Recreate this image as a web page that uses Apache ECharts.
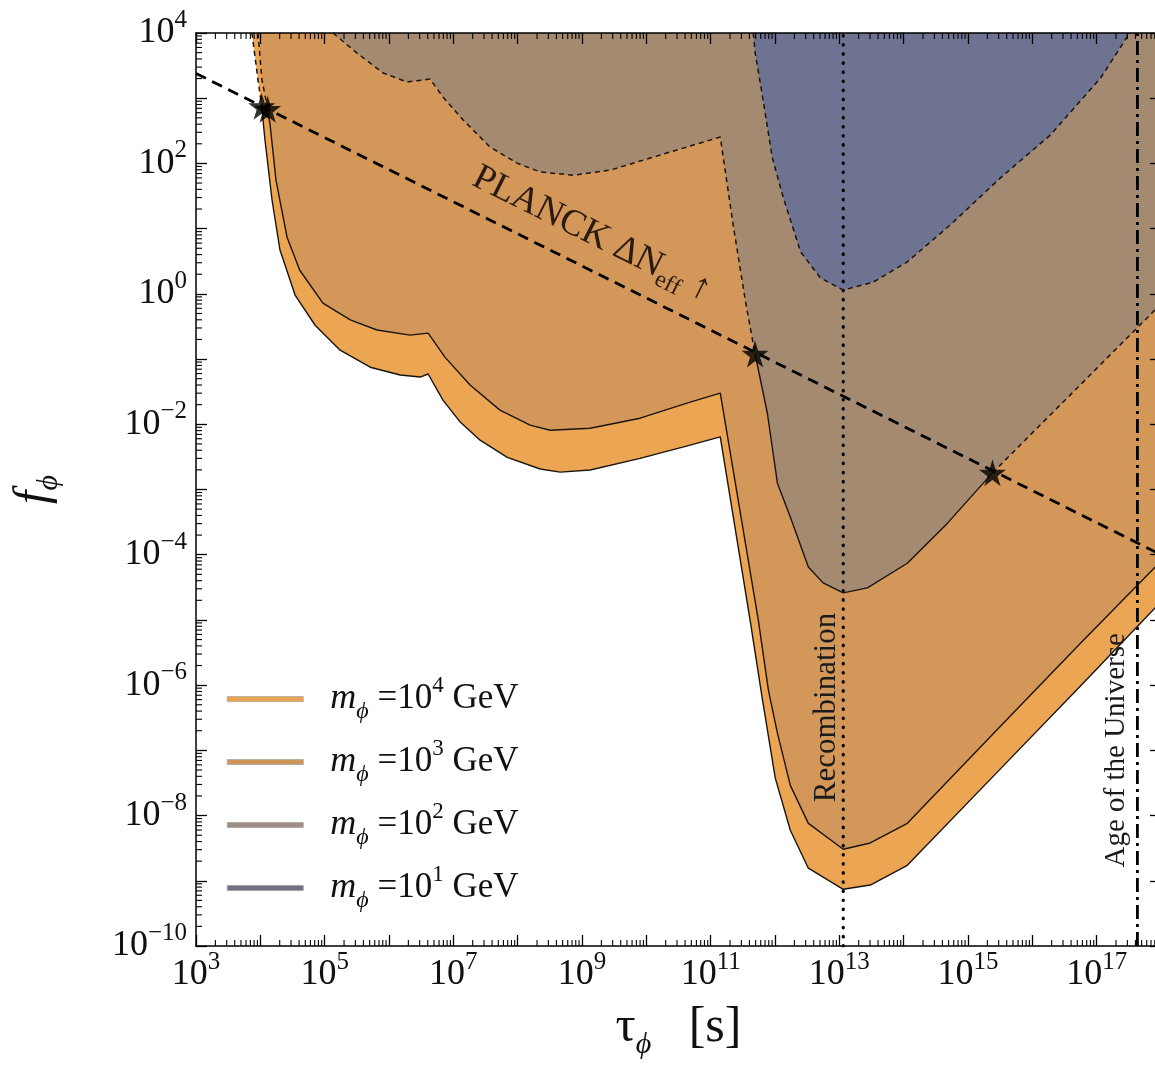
<!DOCTYPE html>
<html>
<head>
<meta charset="utf-8">
<script src="https://cdn.jsdelivr.net/npm/echarts@6.0.0/dist/echarts.min.js"></script>
<style>
html,body{margin:0;padding:0;background:#ffffff;}
#chart{width:1155px;height:1074px;}
</style>
</head>
<body>
<div id="chart"></div>
<script>
// ---------------- data ----------------
const xTickExponents = [3, 5, 7, 9, 11, 13, 15, 17];
const yTickExponents = [4, 2, 0, -2, -4, -6, -8, -10];
const massExponents = ['4', '3', '2', '1'];

// boundary of excluded region, m = 10^4 GeV
const tau4 = [7.4e3, 9.2e3, 1.05e4, 1.18e4, 1.52e4, 2.02e4, 3.47e4, 7.1e4, 1.74e5, 5.1e5, 1.49e6, 3.05e6, 4.06e6, 6.9e6, 1.28e7, 2.6e7, 6.9e7, 2.24e8, 4.6e8, 1.34e9, 8.0e9, 4.8e10, 1.41e11, 4.1e11, 6.4e11, 1.01e12, 1.73e12, 3.3e12, 1.15e13, 3.03e13, 1.14e14, 3.19e15, 5.6e16, 1e18];
const f4   = [1e4, 1.9e3, 7.5e2, 229, 27.5, 4.7, 0.96, 0.33, 0.137, 0.075, 0.057, 0.053, 0.059, 0.0235, 0.0108, 5.7e-3, 3.1e-3, 2.06e-3, 1.85e-3, 1.99e-3, 3.0e-3, 4.8e-3, 6.4e-3, 9.9e-6, 5.9e-7, 3.75e-8, 5.97e-9, 1.56e-9, 7.4e-10, 8.6e-10, 1.73e-9, 5.2e-8, 9.7e-7, 1.9e-5];

// m = 10^3 GeV
const tau3 = [9.2e3, 1.06e4, 1.3e4, 1.42e4, 1.75e4, 2.6e4, 4.1e4, 9.4e4, 2.5e5, 6.5e5, 2.13e6, 4.06e6, 7.4e6, 1.82e7, 5.3e7, 1.56e8, 3.2e8, 1.34e9, 8.0e9, 4.8e10, 1.41e11, 5.5e11, 7.9e11, 1.09e12, 1.73e12, 3.3e12, 1.15e13, 3.03e13, 1.14e14, 3.19e15, 5.6e16, 1e18];
const f3   = [1e4, 1.9e3, 6.8e2, 388, 55.6, 7.4, 2.3, 0.72, 0.40, 0.279, 0.233, 0.25, 0.107, 0.040, 0.0165, 9.7e-3, 8.1e-3, 8.7e-3, 0.0124, 0.0219, 0.030, 9.9e-6, 8.4e-7, 1.84e-7, 2.9e-8, 7.6e-9, 3.05e-9, 3.8e-9, 7.6e-9, 2.35e-7, 4.4e-6, 8.0e-5];

// m = 10^2 GeV
const tau2 = [1.35e5, 3.2e5, 8.1e5, 1.91e6, 4.35e6, 6.9e6, 1.42e7, 3.7e7, 9.8e7, 2.24e8, 7.3e8, 2.75e9, 1.28e10, 4.8e10, 1.41e11, 2.24e11, 3.45e11, 4.9e11, 7.6e11, 1.09e12, 1.73e12, 3.3e12, 5.6e12, 1.15e13, 2.73e13, 1.14e14, 4.8e14, 2.4e15, 1e18];
const f2   = [1e4, 4.9e3, 2.44e3, 1.77e3, 1.97e3, 1.04e3, 464, 179, 101, 74, 66, 79, 125, 185, 254, 11.3, 0.80, 0.12, 0.0149, 1.25e-3, 3.8e-4, 6.5e-5, 3.7e-5, 2.6e-5, 3.1e-5, 7.4e-5, 3.05e-4, 1.8e-3, 0.70];

// m = 10^1 GeV
const tau1 = [4.6e11, 4.9e11, 6.6e11, 9.1e11, 1.35e12, 2.5e12, 5.1e12, 1.15e13, 3.4e13, 1.14e14, 5.3e14, 3.19e15, 1.91e16, 1.15e17, 3.1e17, 3.4e17];
const f1   = [1e4, 5.1e3, 875, 121, 29.5, 4.4, 1.75, 1.14, 1.52, 3.1, 11.4, 60, 273, 2.04e3, 9.3e3, 1e4];

// PLANCK Delta N_eff line and its crossing stars
const planckTau = [1e3, 1e18];
const planckF   = [2.4e3, 1.0e-4];
const starTau = [1.05e4, 1.3e4, 4.9e11, 2.4e15];
const starF   = [7.5e2, 6.8e2, 0.12, 1.8e-3];

// reference epochs
const recombinationTau = 1.15e13;
const ageUniverseTau = 4.3e17;

// ---------------- styling / helpers ----------------
const FONT = 'Liberation Serif';
const fillColors = ['#EBA553', '#D3975A', '#A58A72', '#6D7391'];
const legendColors = ['#E9A453', '#CF9659', '#9D8D82', '#6E7084'];
const X_MIN = 3, X_MAX = 18, Y_MIN = -10, Y_MAX = 4;
const L = Math.log10;
const toLog = (t, f) => t.map((v, i) => [L(v), L(f[i])]);

const pl = toLog(planckTau, planckF);
function planckLog(lx) {
  return pl[0][1] + (lx - pl[0][0]) * (pl[1][1] - pl[0][1]) / (pl[1][0] - pl[0][0]);
}
function sideOf(p) {
  const d = p[1] - planckLog(p[0]);
  if (Math.abs(d) < 0.05) return 0;
  return d > 0 ? 1 : -1;
}
function splitSegments(pts) {
  const segs = [];
  let cur = [pts[0]];
  let side = sideOf(pts[0]) || null;
  for (let i = 1; i < pts.length; i++) {
    const p = pts[i];
    const s = sideOf(p);
    cur.push(p);
    if (s === 0) {
      segs.push({ above: side > 0, pts: cur });
      cur = [p];
      side = null;
    } else if (side === null) {
      side = s;
    }
  }
  if (cur.length > 1) segs.push({ above: side > 0, pts: cur });
  return segs;
}

const boundaries = [toLog(tau4, f4), toLog(tau3, f3), toLog(tau2, f2), toLog(tau1, f1)];

const series = [];
// filled exclusion regions (area above each boundary)
boundaries.forEach((pts, i) => {
  series.push({
    name: 'm' + massExponents[i],
    type: 'line',
    data: pts,
    showSymbol: false,
    symbol: 'none',
    silent: true,
    z: 1 + i * 0.01,
    color: legendColors[i],
    lineStyle: { width: 0 },
    areaStyle: { origin: 'end', color: fillColors[i], opacity: 1 }
  });
});

// reference vertical lines
series.push({
  type: 'line', silent: true, showSymbol: false, symbol: 'none', z: 3,
  data: [[L(recombinationTau), Y_MIN], [L(recombinationTau), Y_MAX]],
  lineStyle: { color: '#000', width: 3.2, type: [0.5, 8.6], cap: 'round' }
});
series.push({
  type: 'line', silent: true, showSymbol: false, symbol: 'none', z: 3,
  data: [[L(ageUniverseTau), Y_MIN], [L(ageUniverseTau), Y_MAX]],
  lineStyle: { color: '#000', width: 2.8, type: [14, 5, 3, 5] }
});

// boundary lines: dashed above the PLANCK line, solid below
boundaries.forEach((pts) => {
  splitSegments(pts).forEach((seg) => {
    series.push({
      type: 'line', silent: true, showSymbol: false, symbol: 'none', z: 4,
      data: seg.pts,
      lineStyle: seg.above
        ? { color: '#1a1410', width: 1.5, type: [5, 4], join: 'round' }
        : { color: '#1a1410', width: 1.4, type: 'solid', join: 'round' }
    });
  });
});

// PLANCK line
series.push({
  type: 'line', silent: true, showSymbol: false, symbol: 'none', z: 5,
  data: pl,
  lineStyle: { color: '#000', width: 2.8, type: [11, 7] }
});

// stars
series.push({
  type: 'scatter', silent: true, z: 6,
  data: toLog(starTau, starF),
  symbol: 'path://M50,0 L61,35 L98,35 L68,57 L79,91 L50,70 L21,91 L32,57 L2,35 L39,35 Z',
  symbolSize: 27,
  itemStyle: { color: '#000' }
});

// minor (log) ticks
const xMinor = [], yMinor = [];
for (let e = X_MIN; e < X_MAX; e++) for (let k = 2; k <= 9; k++) xMinor.push(e + L(k));
for (let e = Y_MIN; e < Y_MAX; e++) for (let k = 2; k <= 9; k++) yMinor.push(e + L(k));
const TICK_MINOR = 6;
series.push({
  type: 'custom', silent: true, z: 20, clip: false,
  data: xMinor.map(v => [v, Y_MIN]),
  renderItem: function (params, api) {
    const v = api.value(0);
    const b = api.coord([v, Y_MIN]);
    const t = api.coord([v, Y_MAX]);
    return { type: 'group', children: [
      { type: 'line', shape: { x1: b[0], y1: b[1], x2: b[0], y2: b[1] - TICK_MINOR }, style: { stroke: '#000', lineWidth: 1.1 } },
      { type: 'line', shape: { x1: t[0], y1: t[1], x2: t[0], y2: t[1] + TICK_MINOR }, style: { stroke: '#000', lineWidth: 1.1 } }
    ] };
  }
});
series.push({
  type: 'custom', silent: true, z: 20, clip: false,
  data: yMinor.map(v => [X_MIN, v]),
  renderItem: function (params, api) {
    const v = api.value(1);
    const l = api.coord([X_MIN, v]);
    const r = api.coord([X_MAX, v]);
    return { type: 'group', children: [
      { type: 'line', shape: { x1: l[0], y1: l[1], x2: l[0] + TICK_MINOR, y2: l[1] }, style: { stroke: '#000', lineWidth: 1.1 } },
      { type: 'line', shape: { x1: r[0], y1: r[1], x2: r[0] - TICK_MINOR, y2: r[1] }, style: { stroke: '#000', lineWidth: 1.1 } }
    ] };
  }
});

const sup = (e) => String(e).replace('-', '\u2212');
const labelRich = {
  b: { fontFamily: FONT, fontSize: 36, lineHeight: 50, color: '#111' },
  s: { fontFamily: FONT, fontSize: 25, lineHeight: 25, verticalAlign: 'top', color: '#111' }
};
const axisCommon = {
  type: 'value', z: 10,
  axisLine: { show: true, onZero: false, lineStyle: { color: '#000', width: 1.5 } },
  axisTick: { show: true, inside: true, length: 11, lineStyle: { color: '#000', width: 1.3 } },
  splitLine: { show: false }
};

const option = {
  animation: false,
  backgroundColor: '#ffffff',
  grid: { left: 196, right: -6, top: 33, bottom: 128, outerBoundsMode: 'none', containLabel: false },
  xAxis: [
    Object.assign({}, axisCommon, {
      position: 'bottom', min: X_MIN, max: X_MAX, interval: 1,
      axisLabel: {
        margin: 4,
        formatter: (v) => xTickExponents.indexOf(Math.round(v)) >= 0 && Math.abs(v - Math.round(v)) < 1e-6
          ? '{b|10}{s|' + sup(Math.round(v)) + '}' : '',
        rich: labelRich
      },
      name: '{t|\u03C4}{sub|\u03D5}{t|   [s]}',
      nameLocation: 'middle', nameGap: 50,
      nameTextStyle: { rich: {
        t: { fontFamily: FONT, fontSize: 50, lineHeight: 64, color: '#111' },
        sub: { fontFamily: FONT, fontStyle: 'italic', fontSize: 30, lineHeight: 32, verticalAlign: 'bottom', color: '#111' }
      } }
    }),
    Object.assign({}, axisCommon, {
      position: 'top', min: X_MIN, max: X_MAX, interval: 1,
      axisLabel: { show: false }
    })
  ],
  yAxis: [
    Object.assign({}, axisCommon, {
      position: 'left', min: Y_MIN, max: Y_MAX, interval: 1,
      axisLabel: {
        margin: 9,
        formatter: (v) => yTickExponents.indexOf(Math.round(v)) >= 0 && Math.abs(v - Math.round(v)) < 1e-6
          ? '{b|10}{s|' + sup(Math.round(v)) + '}' : '',
        rich: labelRich
      },
      name: '{t|f}{sub|\u03D5}',
      nameLocation: 'middle', nameGap: 132,
      nameTextStyle: { rich: {
        t: { fontFamily: FONT, fontStyle: 'italic', fontSize: 48, lineHeight: 60, color: '#111' },
        sub: { fontFamily: FONT, fontStyle: 'italic', fontSize: 30, lineHeight: 30, verticalAlign: 'bottom', color: '#111' }
      } }
    }),
    Object.assign({}, axisCommon, {
      position: 'right', min: Y_MIN, max: Y_MAX, interval: 1,
      axisLabel: { show: false }
    })
  ],
  legend: {
    orient: 'vertical', left: 227, top: 674, padding: 0, itemGap: 13,
    itemWidth: 76, itemHeight: 5, selectedMode: false,
    data: massExponents.map((e, i) => ({
      name: 'm' + e, icon: 'rect',
      itemStyle: { color: legendColors[i], borderColor: '#9a9a9a', borderWidth: 0.6, opacity: 1 }
    })),
    formatter: (name) => '{g|}{i|m}{sub|\u03D5}{n| =10}{sp|' + name.slice(1) + '}{n| GeV}',
    textStyle: { rich: {
      g: { width: 22 },
      i: { fontFamily: FONT, fontStyle: 'italic', fontSize: 36, lineHeight: 50, color: '#111' },
      n: { fontFamily: FONT, fontSize: 35, lineHeight: 50, color: '#111' },
      sub: { fontFamily: FONT, fontStyle: 'italic', fontSize: 24, lineHeight: 24, verticalAlign: 'bottom', color: '#111' },
      sp: { fontFamily: FONT, fontSize: 23, lineHeight: 24, verticalAlign: 'top', color: '#111' }
    } }
  },
  series: series
};

const chart = echarts.init(document.getElementById('chart'), null, { renderer: 'canvas', width: 1155, height: 1074 });
chart.setOption(option);

// ---------------- annotations anchored to data coordinates ----------------
const finder = { xAxisIndex: 0, yAxisIndex: 0 };
const toPx = (lx, ly) => chart.convertToPixel(finder, [lx, ly]);

const recAnchor = toPx(L(recombinationTau), L(1.6e-8));
const ageAnchor = toPx(L(ageUniverseTau), L(1.6e-9));
const pA = toPx(pl[0][0], pl[0][1]);
const pB = toPx(pl[1][0], pl[1][1]);
const ang = Math.atan2(pB[1] - pA[1], pB[0] - pA[0]);
const planckLabelLx = L(8.4e8);
const foot = toPx(planckLabelLx, planckLog(planckLabelLx));
const off = 33;
const cx = foot[0] + Math.sin(ang) * off;
const cy = foot[1] - Math.cos(ang) * off;

chart.setOption({
  graphic: [
    {
      type: 'text', x: recAnchor[0] - 16, y: recAnchor[1], rotation: Math.PI / 2, z: 30,
      style: { text: 'Recombination', fontFamily: FONT, fontSize: 31, fill: '#1a1a1a', align: 'left', verticalAlign: 'middle' }
    },
    {
      type: 'text', x: ageAnchor[0] - 21, y: ageAnchor[1], rotation: Math.PI / 2, z: 30,
      style: { text: 'Age of the Universe', fontFamily: FONT, fontSize: 29, fill: '#1a1a1a', align: 'left', verticalAlign: 'middle' }
    },
    {
      type: 'text', x: cx, y: cy, rotation: -ang, z: 30,
      style: {
        text: '{a|PLANCK \u0394N}{s|eff}{a| \u2191}',
        align: 'center', verticalAlign: 'middle',
        rich: {
          a: { fontFamily: FONT, fontSize: 37, lineHeight: 46, fill: '#2a1a10' },
          s: { fontFamily: FONT, fontSize: 24, lineHeight: 26, verticalAlign: 'bottom', fill: '#2a1a10' }
        }
      }
    }
  ]
});
</script>
</body>
</html>
